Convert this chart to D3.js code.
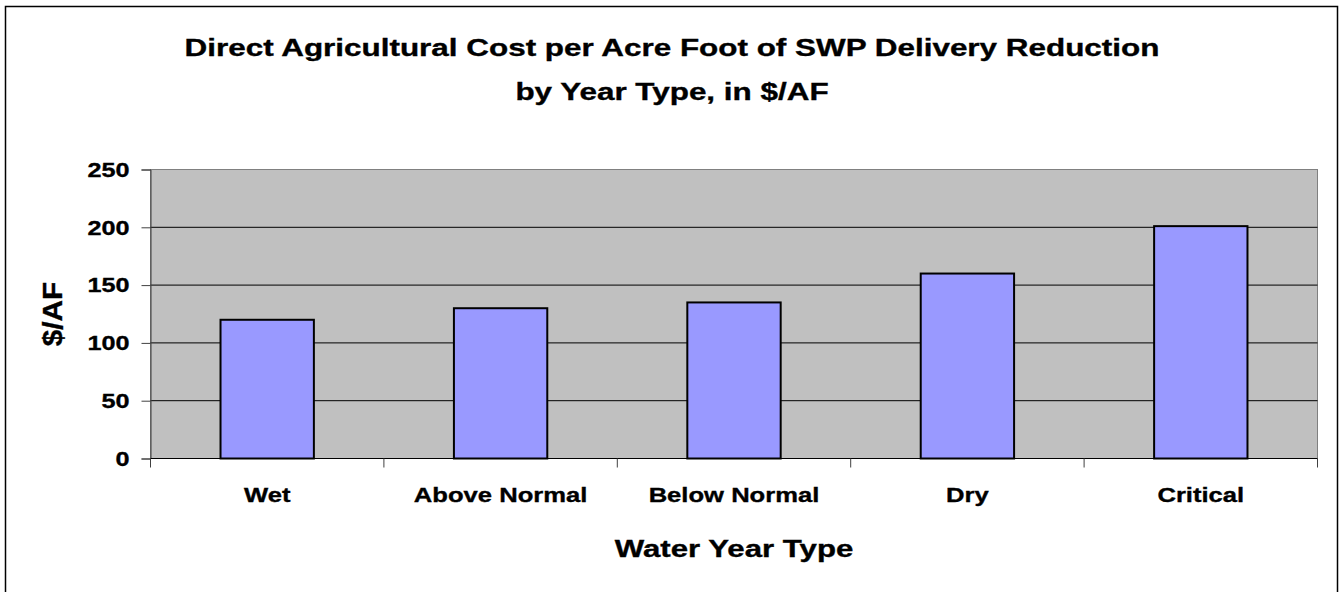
<!DOCTYPE html>
<html>
<head>
<meta charset="utf-8">
<script src="https://cdn.jsdelivr.net/npm/d3@7"></script>
<style>
  body { margin: 0; background: #fff; }
  text { font-family: Arial, "Liberation Sans", sans-serif; font-weight: bold; fill: #000; stroke: #000; stroke-width: 0.35px; }
</style>
</head>
<body>
<div id="plot"></div>
<script>
// chart data
const yearTypes = ["Wet", "Above Normal", "Below Normal", "Dry", "Critical"];
const costPerAF = [120, 130, 135, 160, 201];
const yTicks = [0, 50, 100, 150, 200, 250];
const titleLines = ["Direct Agricultural Cost per Acre Foot of SWP Delivery Reduction", "by Year Type, in $/AF"];

const W = 1340, H = 592;
const margin = {top: 169.5, right: 22.5, bottom: 133.5, left: 150.5},
    width = W - margin.left - margin.right,
    height = H - margin.top - margin.bottom;

const svg = d3.select("#plot").append("svg")
    .attr("width", W)
    .attr("height", H);

// outer chart border
svg.append("rect")
    .attr("x", 5.5).attr("y", 6.5)
    .attr("width", 1332).attr("height", 600)
    .attr("fill", "none").attr("stroke", "#000").attr("stroke-width", 1.5);

// the source text is drawn wider than plain Arial: stretch the glyphs sideways
function widen(sel, k) {
    sel.each(function() {
        const t = d3.select(this);
        const x0 = +(t.attr("x") || 0);
        const tr = t.attr("transform") || "";
        t.attr("x", x0 / k).attr("transform", tr + " scale(" + k + ",1)");
    });
}

const g = svg.append("g")
    .attr("transform", "translate(" + margin.left + "," + margin.top + ")");

const x = d3.scaleBand()
    .domain(yearTypes)
    .range([0, width])
    .paddingInner(0.6)
    .paddingOuter(0.3);

const y = d3.scaleLinear()
    .domain([0, 250])
    .range([height, 0]);

// plot background
g.append("rect")
    .attr("width", width).attr("height", height)
    .attr("fill", "#c0c0c0")
    .attr("stroke", "#808080").attr("stroke-width", 1);

// gridlines
g.append("g")
    .selectAll("line")
    .data(yTicks.filter(d => d > 0 && d < 250))
    .enter().append("line")
    .attr("x1", 0).attr("x2", width)
    .attr("y1", d => y(d)).attr("y2", d => y(d))
    .attr("stroke", "#000").attr("stroke-width", 1);

// bars
g.append("g")
    .selectAll("rect")
    .data(costPerAF)
    .enter().append("rect")
    .attr("x", (d, i) => x(yearTypes[i]))
    .attr("y", d => y(d))
    .attr("width", x.bandwidth())
    .attr("height", d => height - y(d))
    .attr("fill", "#9999ff")
    .attr("stroke", "#000").attr("stroke-width", 2);

// y axis
const yAxis = g.append("g")
    .call(d3.axisLeft(y).tickValues(yTicks).tickSize(9).tickPadding(12));
yAxis.select(".domain").attr("stroke", "#404040");
yAxis.selectAll(".tick line").attr("stroke", "#404040");
yAxis.selectAll("text")
    .style("font-size", "21px")
    .attr("font-family", null)
    .attr("fill", "#000");
widen(yAxis.selectAll("text"), 1.2);

// x axis: ticks at the band edges
const edges = d3.range(yearTypes.length + 1).map(i => i * width / yearTypes.length);
const xAxis = g.append("g").attr("transform", "translate(0," + height + ")");
xAxis.append("line")
    .attr("x1", 0).attr("x2", width)
    .attr("stroke", "#000").attr("stroke-width", 1);
xAxis.selectAll(".edge")
    .data(edges)
    .enter().append("line")
    .attr("x1", d => d).attr("x2", d => d)
    .attr("y1", 0).attr("y2", 9)
    .attr("stroke", "#404040");
const xLabels = xAxis.selectAll(".lbl")
    .data(yearTypes)
    .enter().append("text")
    .attr("x", d => x(d) + x.bandwidth() / 2)
    .attr("y", 44)
    .attr("text-anchor", "middle")
    .style("font-size", "21px")
    .text(d => d);
widen(xLabels, 1.22);

// axis titles
const xTitle = svg.append("text")
    .attr("x", margin.left + width / 2)
    .attr("y", 557)
    .attr("text-anchor", "middle")
    .style("font-size", "24px")
    .text("Water Year Type");
widen(xTitle, 1.3);

const yTitle = svg.append("text")
    .attr("transform", "translate(62,314) rotate(-90)")
    .attr("text-anchor", "middle")
    .style("font-size", "27px")
    .text("$/AF");
widen(yTitle, 1.1);

// chart title
const title = svg.append("g").selectAll("text")
    .data(titleLines)
    .enter().append("text")
    .attr("x", 672)
    .attr("y", (d, i) => 56.5 + i * 43.5)
    .attr("text-anchor", "middle")
    .style("font-size", "24px")
    .text(d => d);
widen(title, 1.31);
</script>
</body>
</html>
